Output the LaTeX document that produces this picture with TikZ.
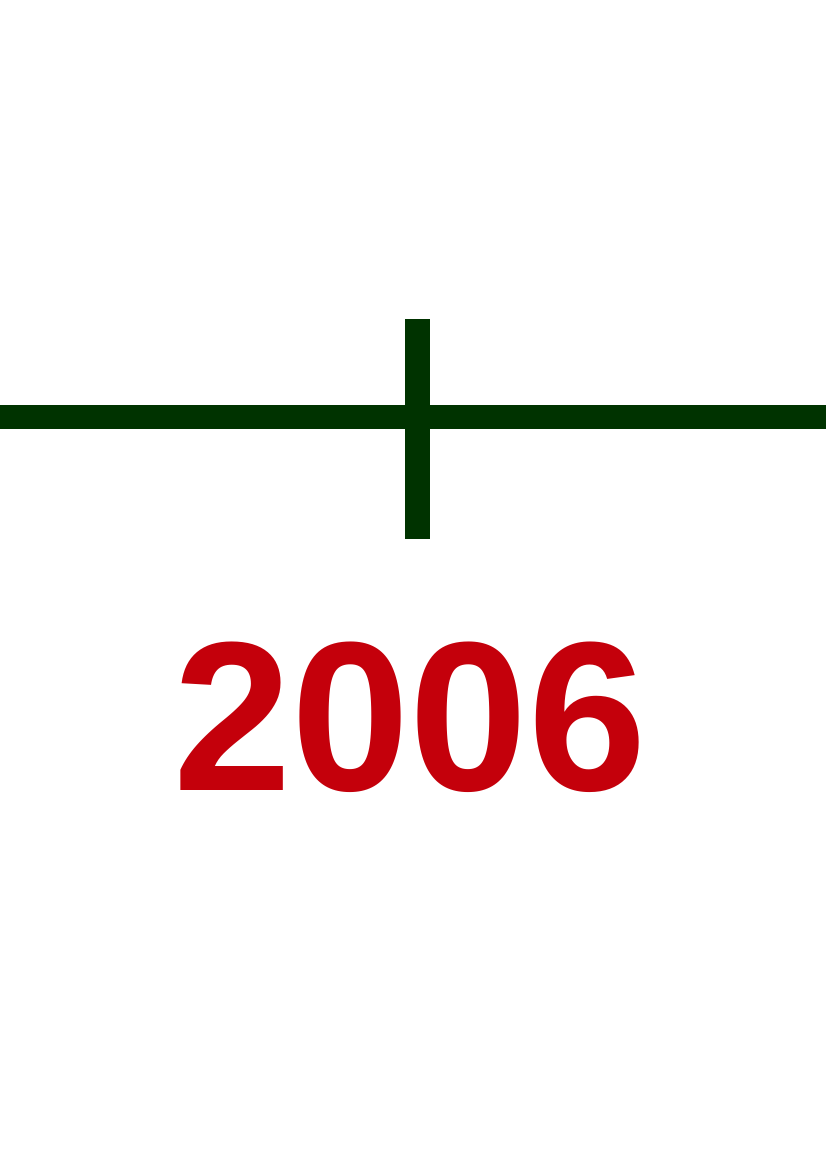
\documentclass[tikz,border=0pt]{standalone}
\usepackage{fontspec}
\setmainfont{Liberation Sans}
\usetikzlibrary{positioning}
\definecolor{TickGreen}{RGB}{0,51,0}
\definecolor{YearRed}{RGB}{196,0,11}

\begin{document}
\begin{tikzpicture}[
    x=0.01cm,y=-0.01cm,
    axis/.style={draw=TickGreen, line width=0.235cm},
    tick/.style={draw=TickGreen, line width=0.24cm},
    year/.style={inner sep=0pt, text=YearRed, font=\fontsize{60.5}{60.5}\selectfont\bfseries}
  ]
    \useasboundingbox (0,0) rectangle (826,1169);
    \coordinate (axl) at (0,417);
    \coordinate (axr) at (826,417);
    \coordinate (tkt) at (417.5,319);
    \coordinate (tkb) at (417.5,539);
    \draw[axis] (axl) -- (axr);
    \draw[tick] (tkt) -- (tkb);
    \node[year] (y2006) at (410,717) {2006};
  \end{tikzpicture}
\end{document}
